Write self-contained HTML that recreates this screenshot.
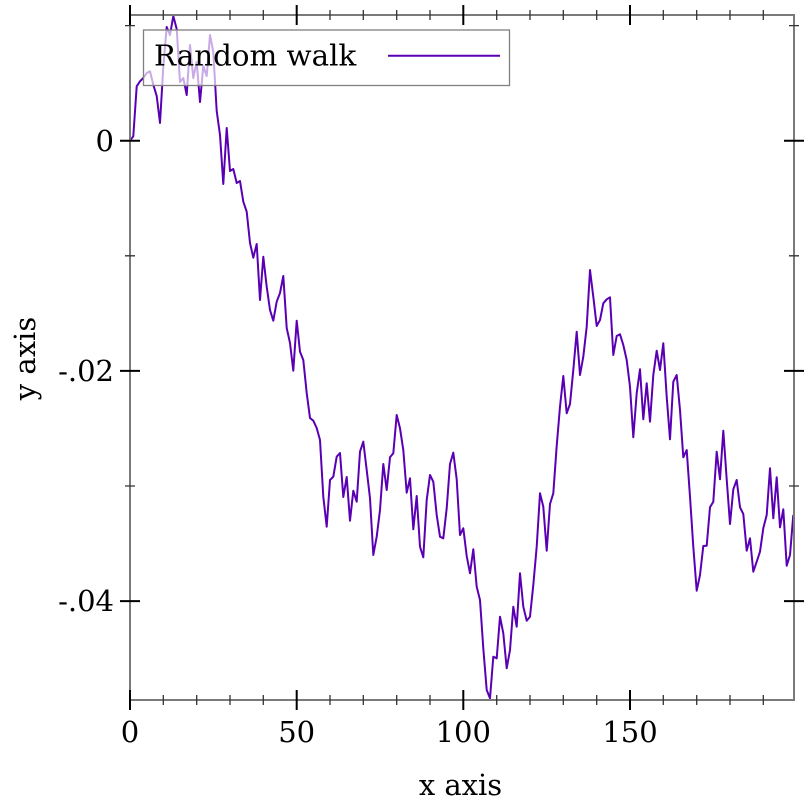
<!DOCTYPE html>
<html>
<head>
<meta charset="utf-8">
<style>
html,body{margin:0;padding:0;background:#fff;}
svg{display:block;}
text{font-family:"DejaVu Serif","Liberation Serif",serif;fill:#000;}
</style>
</head>
<body>
<svg width="812" height="812" viewBox="0 0 812 812" xmlns="http://www.w3.org/2000/svg">
<rect x="0" y="0" width="812" height="812" fill="#fff"/>

<!-- data line -->
<polyline fill="none" stroke="#5a00b4" stroke-width="2" stroke-linejoin="round" points="
130,140.7 133.3,136.3 136.7,86.3 140,81.3 143.3,78 146.7,73 150,71.3 153.3,84.7 156.7,96 160,123
163.3,67 166.7,27 170,35 173.3,16 176.7,29 180,82 183.3,78 186.7,95 190,45 193.3,78
196.7,62 200,102 203.3,66 206.7,76 210,35 213.3,52 216.7,111 220,135 223.3,184 226.7,128
230,171 233.3,169 236.7,183 240,181 243.3,201.7 246.7,211.7 250,243 253.3,257.7 256.7,244 260,300
263.3,256.7 266.7,286.7 270,310 273.3,320.7 276.7,301.7 280,293 283.3,276 286.7,328 290,343 293.3,370.7
296.7,320.7 300,351.7 303.3,360 306.7,393 310,418 313.3,420.7 316.7,428 320,440 323.3,496.7 326.7,526.7
330,480 333.3,476.7 336.7,456.7 340,453 343.3,497 346.7,477 350,520.7 353.3,490.7 356.7,501.7 360,451.7
363.3,441.7 366.7,470 370,498.3 373.3,555 376.7,536.7 380,510 383.3,464 386.7,490 390,457.3 393.3,453.3
396.7,415 400,428.3 403.3,450 406.7,492.7 410,478.3 413.3,529.3 416.7,496 420,546.7 423.3,557.3 426.7,500
430,475 433.3,481.7 436.7,515 440,536.7 443.3,538.3 446.7,508.3 450,464 453.3,452.7 456.7,479.3 460,535
463.3,528.3 466.7,556 470,573.3 473.3,549.3 476.7,586.7 480,600 483.3,648.3 486.7,690 490,698.3 493.3,656.7
496.7,658.3 500,616.7 503.3,633.3 506.7,668.3 510,650 513.3,606.7 516.7,626.7 520,573.3 523.3,606.7 526.7,620.7
530,616.7 533.3,585 536.7,546.7 540,493.3 543.3,506.7 546.7,550.7 550,504 553.3,493.3 556.7,446 560,406.7
563.3,376 566.7,413.3 570,404 573.3,370 576.7,331.7 580,375 583.3,356.7 586.7,326.7 590,270 593.3,296.7
596.7,326 600,320 603.3,303.3 606.7,299.3 610,297.3 613.3,355 616.7,336 620,334.3 623.3,345 626.7,360
630,386.7 633.3,437.3 636.7,393.3 640,369.3 643.3,419.3 646.7,383.3 650,421.7 653.3,375 656.7,350.7 660,370
663.3,343.3 666.7,396.7 670,439.3 673.3,381.7 676.7,375 680,410 683.3,457.3 686.7,450 690,496.7 693.3,546.7
696.7,590.7 700,575 703.3,546 706.7,545.7 710,507.3 713.3,501.7 716.7,451.7 720,479.3 723.3,430.7 726.7,479.3
730,524 733.3,489.3 736.7,480 740,507.3 743.3,514 746.7,550.7 750,538.3 753.3,571.7 756.7,561.7 760,551.7
763.3,528.3 766.7,515 770,468.3 773.3,518.3 776.7,477.3 780,527.3 783.3,509.3 786.7,565.7 790,555 793.3,515"/>

<!-- frame -->
<rect x="130" y="15" width="664" height="685" fill="none" stroke="#7a7a7a" stroke-width="2"/>

<!-- minor x ticks (bottom & top) -->
<g stroke="#333" stroke-width="1.3">
<path d="M163.3,695V705 M196.7,695V705 M230,695V705 M263.3,695V705 M330,695V705 M363.3,695V705 M396.7,695V705 M430,695V705 M496.7,695V705 M530,695V705 M563.3,695V705 M596.7,695V705 M663.3,695V705 M696.7,695V705 M730,695V705 M763.3,695V705"/>
<path d="M163.3,10V20 M196.7,10V20 M230,10V20 M263.3,10V20 M330,10V20 M363.3,10V20 M396.7,10V20 M430,10V20 M496.7,10V20 M530,10V20 M563.3,10V20 M596.7,10V20 M663.3,10V20 M696.7,10V20 M730,10V20 M763.3,10V20"/>
<!-- minor y ticks -->
<path d="M125,25.6H135 M125,255.8H135 M125,486H135 M789,25.6H799 M789,255.8H799 M789,486H799"/>
</g>
<!-- major ticks -->
<g stroke="#000" stroke-width="2">
<path d="M130,690V710 M296.7,690V710 M463.3,690V710 M630,690V710"/>
<path d="M130,5V25 M296.7,5V25 M463.3,5V25 M630,5V25"/>
<path d="M120,140.7H140 M120,370.9H140 M120,601.1H140 M784,140.7H804 M784,370.9H804 M784,601.1H804"/>
</g>

<!-- tick labels -->
<g font-size="29" text-anchor="middle">
<text x="130" y="742">0</text>
<text x="296.7" y="742">50</text>
<text x="463.3" y="742">100</text>
<text x="630" y="742">150</text>
</g>
<g font-size="29" text-anchor="end">
<text x="114" y="150.8">0</text>
<text x="114" y="381">-.02</text>
<text x="114" y="611">-.04</text>
</g>

<!-- axis labels -->
<text x="460.5" y="795" font-size="29" text-anchor="middle">x axis</text>
<text x="0" y="0" font-size="29" text-anchor="middle" transform="translate(35,358.5) rotate(-90)">y axis</text>

<!-- legend -->
<rect x="143.5" y="30" width="366" height="55.5" fill="#fff" fill-opacity="0.667" stroke="#808080" stroke-width="1.3"/>
<text x="154" y="65.5" font-size="29.3">Random walk</text>
<line x1="388" y1="55.7" x2="500" y2="55.7" stroke="#5a00b4" stroke-width="2"/>
</svg>
</body>
</html>
